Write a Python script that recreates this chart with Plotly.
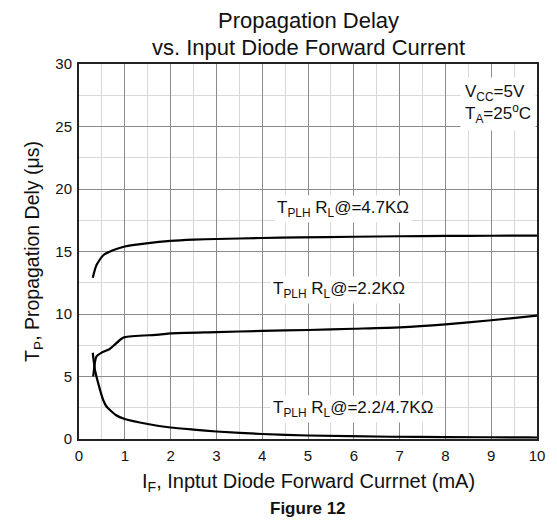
import plotly.graph_objects as go

# Curve data (I_F in mA, T_P in us)
if_47k = [0.30, 0.38, 0.53, 0.74, 1.0, 1.47, 2.0, 2.5, 3.0, 4.0, 4.8, 6.0, 7.0, 8.0, 9.0, 10.0]
tp_47k = [12.9, 13.9, 14.7, 15.1, 15.4, 15.65, 15.85, 15.95, 16.0, 16.08, 16.13, 16.18, 16.22, 16.25, 16.26, 16.27]

if_22k = [0.31, 0.38, 0.49, 0.67, 0.78, 0.92, 1.0, 1.75, 2.0, 3.0, 4.0, 5.0, 6.0, 7.0, 8.0, 9.0, 10.0]
tp_22k = [5.0, 6.6, 6.9, 7.2, 7.55, 8.0, 8.15, 8.35, 8.45, 8.55, 8.65, 8.72, 8.82, 8.93, 9.17, 9.5, 9.87]

if_mix = [0.30, 0.35, 0.42, 0.53, 0.60, 0.81, 1.0, 1.5, 2.0, 2.5, 3.0, 4.0, 5.0, 6.8, 8.0, 9.8, 10.0]
tp_mix = [6.9, 5.5, 4.45, 3.1, 2.6, 1.9, 1.6, 1.2, 0.92, 0.75, 0.6, 0.4, 0.28, 0.18, 0.15, 0.13, 0.12]

x_ticks = [0, 1, 2, 3, 4, 5, 6, 7, 8, 9, 10]
y_ticks = [0, 5, 10, 15, 20, 25, 30]

FONT = "Liberation Sans, Arial, sans-serif"
INK = "#111"

fig = go.Figure()
for xs, ys in [(if_47k, tp_47k), (if_22k, tp_22k), (if_mix, tp_mix)]:
    fig.add_trace(go.Scatter(x=xs, y=ys, mode="lines",
                             line=dict(color="black", width=2.2, shape="spline", smoothing=0.6),
                             showlegend=False, hoverinfo="skip"))

ann_font = dict(family=FONT, size=17, color=INK)
fig.add_annotation(x=4.25, y=18.4, xref="x", yref="y", xanchor="left", yanchor="middle",
                   text="T<sub>PLH</sub> R<sub>L</sub>@=4.7KΩ", showarrow=False, font=ann_font,
                   bgcolor="white", borderpad=2)
fig.add_annotation(x=4.18, y=11.9, xref="x", yref="y", xanchor="left", yanchor="middle",
                   text="T<sub>PLH</sub> R<sub>L</sub>@=2.2KΩ", showarrow=False, font=ann_font,
                   bgcolor="white", borderpad=2)
fig.add_annotation(x=4.18, y=2.4, xref="x", yref="y", xanchor="left", yanchor="middle",
                   text="T<sub>PLH</sub> R<sub>L</sub>@=2.2/4.7KΩ", showarrow=False, font=ann_font,
                   bgcolor="white", borderpad=2)
fig.add_annotation(x=9.98, y=29.0, xref="x", yref="y", xanchor="right", yanchor="top",
                   text="V<sub>CC</sub>=5V<br>T<sub>A</sub>=25<sup>o</sup>C", showarrow=False,
                   font=dict(family=FONT, size=17, color=INK), align="left", bgcolor="white", borderpad=4)

# Titles placed as paper annotations
fig.add_annotation(x=0.5, y=1.117, xref="paper", yref="paper", xanchor="center", yanchor="middle",
                   text="Propagation Delay", showarrow=False, font=dict(family=FONT, size=22, color=INK))
fig.add_annotation(x=0.5, y=1.045, xref="paper", yref="paper", xanchor="center", yanchor="middle",
                   text="vs. Input Diode Forward Current", showarrow=False, font=dict(family=FONT, size=22, color=INK))
fig.add_annotation(x=0.5, y=-0.1147, xref="paper", yref="paper", xanchor="center", yanchor="middle",
                   text="I<sub>F</sub>, Inptut Diode Forward Currnet (mA)", showarrow=False,
                   font=dict(family=FONT, size=20, color=INK))
fig.add_annotation(x=-0.0996, y=0.5, xref="paper", yref="paper", xanchor="center", yanchor="middle",
                   text="T<sub>P</sub>, Propagation Dely (μs)", showarrow=False, textangle=-90,
                   font=dict(family=FONT, size=19.5, color=INK))
fig.add_annotation(x=0.5, y=-0.184, xref="paper", yref="paper", xanchor="center", yanchor="middle",
                   text="<b>Figure 12</b>", showarrow=False,
                   font=dict(family=FONT, size=17, color=INK))

fig.update_layout(
    width=557, height=522,
    margin=dict(l=79, r=16, t=64, b=83),
    paper_bgcolor="white", plot_bgcolor="white",
    font=dict(family=FONT, color=INK),
    hovermode=False,
    xaxis=dict(range=[0, 10], tickvals=x_ticks, ticktext=[str(v) for v in x_ticks],
               showgrid=True, gridcolor="#8a8a8a", gridwidth=1,
               minor=dict(dtick=0.5, showgrid=True, gridcolor="#d8d8d8", gridwidth=1),
               showline=True, linecolor="#222", linewidth=2, mirror=True, zeroline=False,
               ticks="", tickfont=dict(size=15), ticklabelstandoff=2),
    yaxis=dict(range=[0, 30], tickvals=y_ticks, ticktext=[str(v) for v in y_ticks],
               showgrid=True, gridcolor="#8a8a8a", gridwidth=1,
               minor=dict(dtick=2.5, showgrid=True, gridcolor="#d8d8d8", gridwidth=1),
               showline=True, linecolor="#222", linewidth=2, mirror=True, zeroline=False,
               ticks="", tickfont=dict(size=15), ticklabelstandoff=2),
)

fig.write_html("out.html", config={"displayModeBar": False, "staticPlot": True},
               post_script="document.body.style.margin='0';document.body.style.overflow='hidden';")
